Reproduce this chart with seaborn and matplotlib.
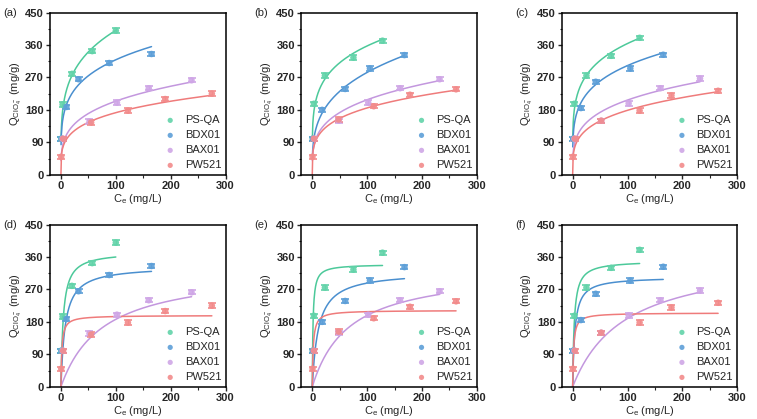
import numpy as np
import matplotlib
matplotlib.use("Agg")
import matplotlib.pyplot as plt
import seaborn as sns

sns.set_theme(style="ticks")
plt.rcParams['font.family'] = ['Liberation Sans', 'DejaVu Sans']
plt.rcParams['mathtext.fontset'] = 'custom'
plt.rcParams['mathtext.rm'] = 'Liberation Sans'

names = ["PS-QA", "BDX01", "BAX01", "PW521"]
point_colors = ["#62d3a9", "#5d9fd8", "#cfa6e6", "#f28b8b"]
line_colors = ["#4cc99a", "#4a8fcf", "#c397de", "#ef7b7b"]

# data set 1 -> panels (a) and (d)
ce_1 = [[0.5, 3, 20, 57, 100],
        [1, 10, 32, 88, 165],
        [3, 52, 102, 160, 238],
        [0.5, 4, 55, 122, 190, 275]]
qe_1 = [[100, 195, 280, 343, 400],
        [100, 188, 265, 310, 335],
        [100, 148, 200, 240, 262],
        [50, 100, 145, 178, 210, 225]]

# data set 2 -> panels (b) and (e)
ce_2 = [[1, 3, 23, 75, 128],
        [1, 18, 60, 105, 168],
        [3, 48, 102, 160, 232],
        [0.5, 3, 48, 112, 178, 262]]
qe_2 = [[100, 197, 275, 325, 372],
        [100, 180, 238, 295, 332],
        [100, 150, 200, 240, 265],
        [50, 100, 153, 190, 222, 237]]

# data set 3 -> panels (c) and (f)
ce_3 = [[1, 3, 25, 70, 122],
        [1, 15, 42, 105, 165],
        [3, 52, 102, 160, 232],
        [0.5, 4, 52, 122, 180, 265]]
qe_3 = [[100, 197, 275, 330, 380],
        [100, 185, 258, 295, 333],
        [100, 150, 198, 240, 267],
        [50, 100, 150, 178, 220, 233]]

err = 6

# fitted parameters
frd_k = [[137, 118, 60, 56], [141, 73, 60, 60], [145, 110, 62.6, 54]]
frd_inv_n = [[0.233, 0.216, 0.266, 0.244], [0.202, 0.295, 0.27, 0.245], [0.2, 0.22, 0.26, 0.26]]
lng_qm = [[375, 335, 330, 198], [340, 320, 330, 212], [350, 305, 370, 205]]
lng_k = [[0.24, 0.13, 0.0131, 0.6], [0.75, 0.089, 0.015, 0.57], [0.35, 0.25, 0.0105, 0.6]]
frd_x0 = [0.2, 0.2, 0.2, 0.0]

sets = [(ce_1, qe_1), (ce_2, qe_2), (ce_3, qe_3)]
letters = ["(a)", "(b)", "(c)", "(d)", "(e)", "(f)"]

fig = plt.figure(figsize=(7.57, 4.19), dpi=100)
lefts = [0.066, 0.398, 0.742]
bottoms = [0.583, 0.077]
w, h = 0.232, 0.387

for row in range(2):
    for col in range(3):
        ax = fig.add_axes([lefts[col], bottoms[row], w, h])
        ce, qe = sets[col]
        for i, name in enumerate(names):
            xmax = max(ce[i])
            if row == 0:
                x = np.linspace(frd_x0[i], xmax, 300)
                y = frd_k[col][i] * x ** frd_inv_n[col][i]
            else:
                x = np.linspace(0, xmax, 300)
                y = lng_qm[col][i] * lng_k[col][i] * x / (1 + lng_k[col][i] * x)
            sns.lineplot(x=x, y=y, ax=ax, color=line_colors[i], lw=1.1)
            ax.errorbar(ce[i], qe[i], yerr=err, fmt="none", ecolor=point_colors[i],
                        elinewidth=1.0, capsize=3, capthick=1.2, zorder=3)
            sns.scatterplot(x=ce[i], y=qe[i], ax=ax, color=point_colors[i], s=22,
                            edgecolor="none", alpha=0.9, zorder=4, label=name)
        ax.set_xlim(-20, 300)
        ax.set_ylim(0, 450)
        ax.set_xticks([0, 100, 200, 300])
        ax.set_yticks([0, 90, 180, 270, 360, 450])
        ax.set_xticks([50, 150, 250], minor=True)
        ax.set_yticks([45, 135, 225, 315, 405], minor=True)
        ax.tick_params(which="major", direction="out", length=3, width=1, labelsize=8, pad=1.5)
        ax.tick_params(which="minor", direction="out", length=1.8, width=0.8)
        for lab in ax.get_xticklabels() + ax.get_yticklabels():
            lab.set_fontweight("bold")
        for sp in ax.spines.values():
            sp.set_linewidth(1.1)
            sp.set_color("black")
        ax.set_xlabel(r"C$_\mathrm{e}$ (mg/L)", fontsize=8, labelpad=1)
        ax.set_ylabel(r"Q$_{\mathrm{ClO_4^-}}$ (mg/g)", fontsize=8, labelpad=1)
        ax.legend(loc="lower right", frameon=False, fontsize=8, handletextpad=0.3,
                  labelspacing=0.45, borderaxespad=0.0, markerscale=0.8,
                  bbox_to_anchor=(1.0, 0.0))
        ax.text(-0.265, 1.0, letters[row * 3 + col], transform=ax.transAxes,
                fontsize=8, va="center", ha="left")

fig.savefig("out.png", dpi=100)
